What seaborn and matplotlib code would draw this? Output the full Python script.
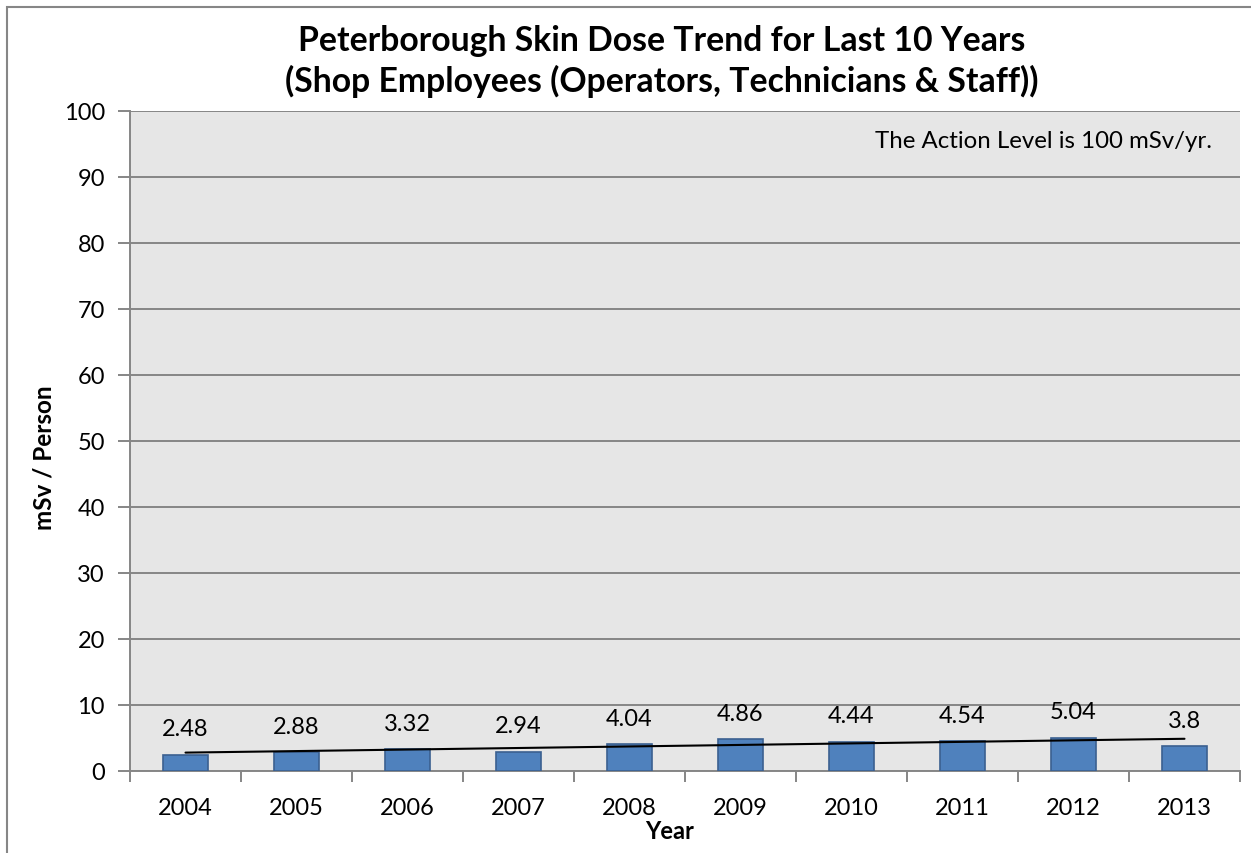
import numpy as np
import pandas as pd
import matplotlib
matplotlib.use("Agg")
import matplotlib.pyplot as plt
from matplotlib.patches import Rectangle
import seaborn as sns

# Average skin dose per shop employee, by year
years = ["2004", "2005", "2006", "2007", "2008", "2009", "2010", "2011", "2012", "2013"]
dose = [2.48, 2.88, 3.32, 2.94, 4.04, 4.86, 4.44, 4.54, 5.04, 3.8]
y_ticks = [0, 10, 20, 30, 40, 50, 60, 70, 80, 90, 100]

title = "Peterborough Skin Dose Trend for Last 10 Years\n(Shop Employees (Operators, Technicians & Staff))"
note = "The Action Level is 100 mSv/yr."

df = pd.DataFrame({"Year": years, "Dose": dose, "idx": np.arange(len(years))})

sns.set_theme(style="white")
plt.rcParams["font.family"] = ["Lato", "DejaVu Sans"]

W, H = 1251, 854
fig = plt.figure(figsize=(W / 100, H / 100), dpi=100)
fig.patch.set_facecolor("white")

# Plot area in pixel terms
left, right, top, bottom = 130, 1240, 112, 772
ax = fig.add_axes([left / W, (H - bottom) / H, (right - left) / W, (bottom - top) / H])
ax.set_facecolor("#E6E6E6")

grid_col = "#868686"

sns.barplot(data=df, x="Year", y="Dose", ax=ax, color="#4F81BD",
            saturation=1, width=0.41, edgecolor="#3B6090", linewidth=1.2,
            zorder=3)

# Linear trendline across the categories
sns.regplot(data=df, x="idx", y="Dose", ax=ax, scatter=False, ci=None,
            truncate=True, line_kws={"color": "black", "lw": 1.5, "zorder": 4})

# Value labels above each bar
for i, v in enumerate(dose):
    ax.annotate(f"{v:g}", xy=(i, v), xytext=(0, 11), textcoords="offset points",
                ha="center", va="bottom", fontsize=17, color="black", zorder=5)

ax.set_xlim(-0.5, len(years) - 0.5)
ax.set_ylim(0, 100)
ax.set_yticks(y_ticks)
ax.set_yticklabels([str(t) for t in y_ticks])
ax.yaxis.grid(True, color=grid_col, lw=1.4, zorder=0)
ax.set_axisbelow(True)

# Category tick marks sit between categories
ax.set_xticks(np.arange(len(years)))
ax.set_xticklabels(years)
ax.set_xticks(np.arange(-0.5, len(years)), minor=True)
ax.tick_params(axis="x", which="major", length=0, pad=19, labelsize=17, labelcolor="black")
ax.tick_params(axis="x", which="minor", length=8, width=1.4, color=grid_col, direction="out", bottom=True)
ax.tick_params(axis="y", which="major", length=9, width=1.4, color=grid_col, direction="out",
               pad=9, labelsize=17, labelcolor="black", left=True)

for side in ["top", "right"]:
    ax.spines[side].set_visible(False)
for side in ["left", "bottom"]:
    ax.spines[side].set_color(grid_col)
    ax.spines[side].set_linewidth(1.4)

ax.set_xlabel("Year", fontsize=17, fontweight="bold", color="black")
ax.set_ylabel("mSv / Person", fontsize=17.5, fontweight="bold", color="black")
ax.xaxis.set_label_coords((670 - left) / (right - left), (bottom - 820) / (bottom - top))
ax.yaxis.set_label_coords((55 - left) / (right - left), (bottom - 458) / (bottom - top))

ax.text(0.975, 0.956, note, transform=ax.transAxes, ha="right", va="center",
        fontsize=17.3, color="black")

fig.text(662 / W, 1 - 25 / H, title, ha="center", va="top", fontsize=24.3,
         fontweight="bold", color="black", linespacing=1.28)

# Outer chart border
fig.add_artist(Rectangle((7 / W, -0.1), 2, 1.1 - 8 / H, transform=fig.transFigure,
                         fill=False, edgecolor=grid_col, lw=1.5, zorder=0))

fig.savefig("out.png", dpi=100)
